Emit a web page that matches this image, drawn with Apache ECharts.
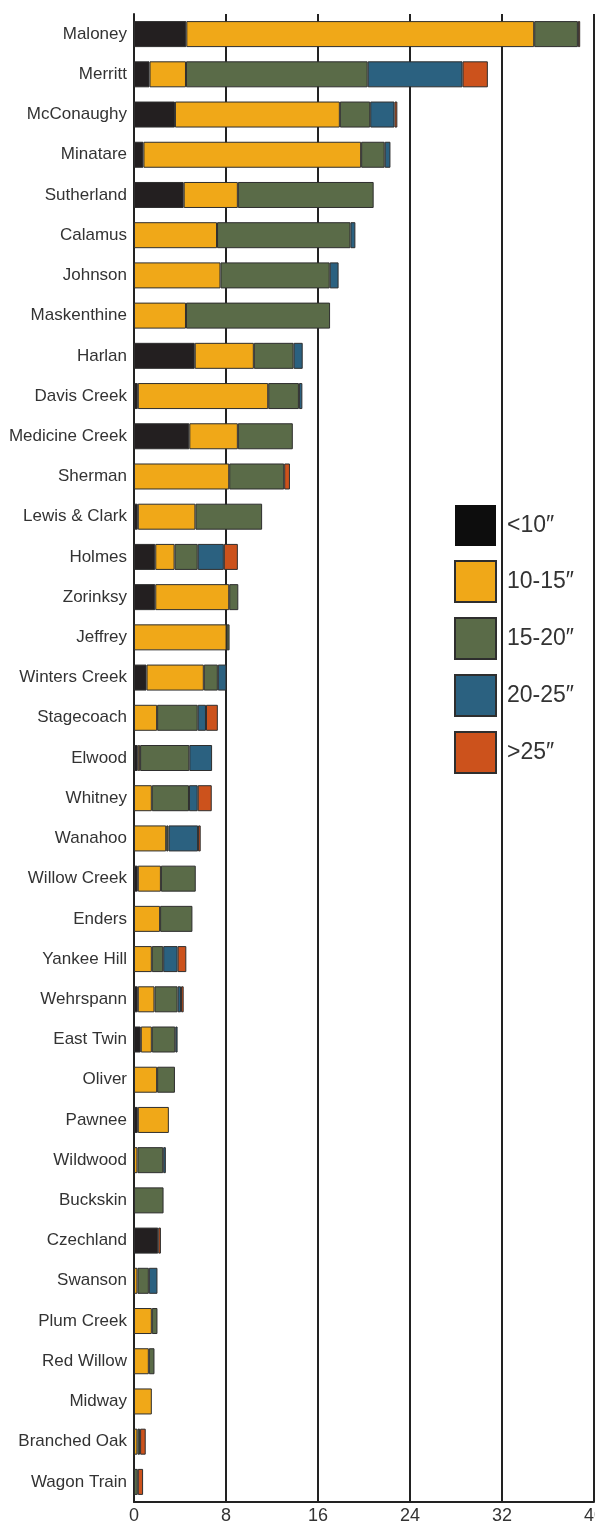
<!DOCTYPE html>
<html>
<head>
<meta charset="utf-8">
<script src="https://cdn.jsdelivr.net/npm/echarts@6/dist/echarts.min.js"></script>
<style>
    html, body { margin: 0; padding: 0; background: #fff; }
    #chart { width: 595px; height: 1523px; }
</style>
</head>
<body>
<div id="chart"></div>
<script>
    const lakes = ['Maloney', 'Merritt', 'McConaughy', 'Minatare', 'Sutherland', 'Calamus', 'Johnson',
        'Maskenthine', 'Harlan', 'Davis Creek', 'Medicine Creek', 'Sherman', 'Lewis & Clark', 'Holmes',
        'Zorinksy', 'Jeffrey', 'Winters Creek', 'Stagecoach', 'Elwood', 'Whitney', 'Wanahoo',
        'Willow Creek', 'Enders', 'Yankee Hill', 'Wehrspann', 'East Twin', 'Oliver', 'Pawnee',
        'Wildwood', 'Buckskin', 'Czechland', 'Swanson', 'Plum Creek', 'Red Willow', 'Midway',
        'Branched Oak', 'Wagon Train']

    const under10 = [4.55, 1.35, 3.56, 0.82, 4.32, 0, 0, 0, 5.28, 0.33, 4.81, 0, 0.33, 1.85, 1.85, 0, 1.09,
        0, 0.33, 0, 0, 0.33, 0, 0, 0.33, 0.59, 0, 0.33, 0, 0, 2.11, 0, 0, 0, 0, 0, 0]
    const from10to15 = [30.25, 3.17, 14.34, 18.93, 4.71, 7.22, 7.52, 4.52, 5.14, 11.34, 4.22, 8.28, 5.01,
        1.68, 6.43, 8.05, 4.98, 2.01, 0.2, 1.55, 2.8, 2.01, 2.27, 1.55, 1.45, 0.96, 2.01, 2.7, 0.3, 0,
        0, 0.3, 1.55, 1.29, 1.55, 0.3, 0]
    const from15to20 = [3.8, 15.8, 2.64, 2.05, 11.81, 11.6, 9.5, 12.53, 3.46, 2.67, 4.78, 4.78, 5.8, 2.01,
        0.79, 0.26, 1.22, 3.53, 4.28, 3.23, 0.2, 3.03, 2.81, 0.99, 2.01, 2.04, 1.55, 0, 2.24, 2.57,
        0, 0.99, 0.49, 0.49, 0, 0.23, 0.33]
    const from20to25 = [0, 8.25, 2.11, 0.5, 0, 0.43, 0.77, 0, 0.79, 0.3, 0, 0, 0, 2.27, 0, 0, 0.75, 0.72,
        1.98, 0.76, 2.57, 0, 0, 1.25, 0.3, 0.2, 0, 0, 0.23, 0, 0, 0.75, 0, 0, 0, 0, 0]
    const over25 = [0.2, 2.2, 0.25, 0, 0, 0, 0, 0, 0, 0, 0, 0.5, 0, 1.22, 0, 0, 0, 1.03, 0, 1.22, 0.23,
        0, 0, 0.76, 0.23, 0, 0, 0, 0, 0, 0.23, 0, 0, 0, 0, 0.49, 0.46]

    const groupNames = ['<10″', '10-15″', '15-20″', '20-25″', '>25″']
    const groupColors = ['#231f20', '#f0a818', '#5a6b48', '#2b6180', '#cc521c']
    const groupValues = [under10, from10to15, from15to20, from20to25, over25]

    const xTicks = [0, 8, 16, 24, 32, 40]

    const font = '"Liberation Sans Narrow", "Liberation Sans", sans-serif'

    let chart = echarts.init(document.getElementById('chart'))

    let series = groupNames.map((name, i) => ({
        name: name,
        type: 'bar',
        stack: 'depth',
        barWidth: 26,
        itemStyle: {
            color: groupColors[i],
            borderColor: '#2e2e2e',
            borderWidth: 1
        },
        // zero segments would otherwise leave a stroke line
        data: groupValues[i].map(v => v > 0 ? v : '-')
    }))

    chart.setOption({
        animation: false,
        backgroundColor: '#fff',
        grid: {
            left: 134,
            right: 1,
            top: 14,
            bottom: 21,
            containLabel: false,
            outerBoundsMode: 'none'
        },
        legend: {
            orient: 'vertical',
            left: 449,
            top: 500,
            itemWidth: 41,
            itemHeight: 41,
            itemGap: 14,
            icon: 'rect',
            textStyle: {
                fontFamily: font,
                fontSize: 23,
                color: '#333',
                padding: [8, 0, 0, 6]
            },
            data: groupNames.map((name, i) => i === 0
                ? {name: name, itemStyle: {color: '#0d0d0d', borderWidth: 0}}
                : {name: name, itemStyle: {borderColor: '#2e2e2e', borderWidth: 2}})
        },
        xAxis: {
            type: 'value',
            min: xTicks[0],
            max: xTicks[xTicks.length - 1],
            interval: 8,
            axisLine: {show: true, lineStyle: {color: '#222', width: 2}},
            axisTick: {show: false},
            splitLine: {show: true, lineStyle: {color: '#222', width: 2}},
            axisLabel: {
                fontFamily: font,
                fontSize: 18,
                color: '#333',
                margin: 5,
                showMaxLabel: true
            }
        },
        yAxis: {
            type: 'category',
            inverse: true,
            data: lakes,
            axisLine: {show: true, lineStyle: {color: '#222', width: 2}},
            axisTick: {show: false},
            axisLabel: {
                fontFamily: font,
                fontSize: 17,
                color: '#333',
                margin: 7
            }
        },
        series: series
    })
</script>
</body>
</html>
